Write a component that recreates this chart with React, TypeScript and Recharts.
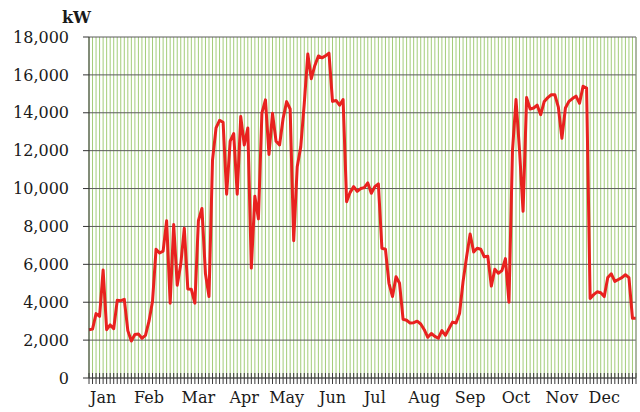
import React from 'react';
import { LineChart, Line, XAxis, YAxis, CartesianGrid } from 'recharts';

// readings, 13 per month
const jan = [2550, 2580, 3400, 3250, 5700, 2550, 2800, 2600, 4100, 4080, 4150, 2500, 1950];
const feb = [2300, 2320, 2100, 2250, 3000, 4050, 6800, 6600, 6700, 8300, 3950, 8100, 4900];
const mar = [6000, 7900, 4700, 4680, 3950, 8300, 8950, 5500, 4300, 11500, 13200, 13600, 13500];
const apr = [9700, 12500, 12900, 9700, 13800, 12300, 13200, 5800, 9600, 8400, 14000, 14680, 11800];
const may = [13970, 12500, 12300, 13700, 14590, 14200, 7250, 11150, 12200, 14500, 17100, 15800, 16500];
const jun = [17000, 16900, 17000, 17150, 14600, 14650, 14400, 14700, 9300, 9800, 10100, 9850, 10000];
const jul = [10050, 10300, 9750, 10100, 10250, 6850, 6800, 5000, 4300, 5350, 5000, 3100, 3050];
const aug = [2900, 2920, 3000, 2850, 2550, 2150, 2350, 2200, 2100, 2500, 2250, 2600, 2950];
const sep = [2900, 3400, 5100, 6400, 7600, 6650, 6850, 6800, 6400, 6430, 4850, 5740, 5530];
const oct = [5670, 6300, 4000, 12000, 14700, 12000, 8800, 14800, 14200, 14250, 14400, 13900, 14600];
const nov = [14800, 14950, 14950, 14300, 12650, 14250, 14600, 14750, 14880, 14500, 15400, 15300, 4200];
const dec = [4400, 4550, 4500, 4300, 5300, 5500, 5100, 5200, 5300, 5450, 5300, 3150, 3150];

const MONTHS = ['Jan', 'Feb', 'Mar', 'Apr', 'May', 'Jun', 'Jul', 'Aug', 'Sep', 'Oct', 'Nov', 'Dec'];
const MONTH_TICK_INDEX = [4, 17, 31, 44, 56, 69, 81, 95, 108, 121, 134, 146];
const Y_TICKS = [0, 2000, 4000, 6000, 8000, 10000, 12000, 14000, 16000, 18000];

const data = [...jan, ...feb, ...mar, ...apr, ...may, ...jun, ...jul, ...aug, ...sep, ...oct, ...nov, ...dec].map(
  (kw, idx) => ({ idx, kw })
);

const FONT = '"DejaVu Serif", serif';
const TICK_SIZE = 6;
const TICK_MARGIN = 8;

const MonthTick = (props: any) => {
  const { x, y, payload } = props;
  const axisY = y - TICK_SIZE - TICK_MARGIN;
  const m = MONTH_TICK_INDEX.indexOf(payload.value);
  return (
    <g>
      <line x1={x} x2={x} y1={axisY - 5} y2={axisY + 6} stroke="#3a3a3a" strokeWidth={1} />
      {m >= 0 && (
        <text x={x} y={y} dy="0.71em" textAnchor="middle" fontFamily={FONT} fontSize={16} fill="#1a1a1a">
          {MONTHS[m]}
        </text>
      )}
    </g>
  );
};

export default function App() {
  return (
    <div style={{ position: 'absolute', left: 0, top: 0, width: 640, height: 412, background: '#fff' }}>
      <div
        style={{
          position: 'absolute',
          left: 62,
          top: 8,
          fontFamily: FONT,
          fontWeight: 'bold',
          fontSize: 16,
          color: '#1a1a1a',
        }}
      >
        kW
      </div>
      <LineChart width={640} height={412} data={data} margin={{ top: 37, right: 0, bottom: 0, left: 0 }}>
        <CartesianGrid horizontal={false} stroke="#a3cd7a" strokeWidth={1} />
        <CartesianGrid vertical={false} stroke="#5a5a5a" strokeWidth={1} />
        <XAxis
          dataKey="idx"
          type="category"
          interval={0}
          height={34}
          tickLine={false}
          tickSize={TICK_SIZE}
          tickMargin={TICK_MARGIN}
          axisLine={{ stroke: '#5a5a5a' }}
          tick={<MonthTick />}
        />
        <YAxis
          domain={[0, 18000]}
          ticks={Y_TICKS}
          width={89}
          tickSize={6}
          tickMargin={14}
          axisLine={{ stroke: '#333' }}
          tickLine={{ stroke: '#333' }}
          tick={{ fontFamily: FONT, fontSize: 16, fill: '#1a1a1a' }}
          tickFormatter={(v) => Number(v).toLocaleString('en-US')}
        />
        <YAxis yAxisId="edge" orientation="right" width={4} tick={false} tickLine={false} axisLine={{ stroke: '#8a8a8a' }} />
        <Line
          type="linear"
          dataKey="kw"
          stroke="#e8221f"
          strokeWidth={3}
          strokeLinejoin="round"
          dot={false}
          isAnimationActive={false}
        />
      </LineChart>
    </div>
  );
}
